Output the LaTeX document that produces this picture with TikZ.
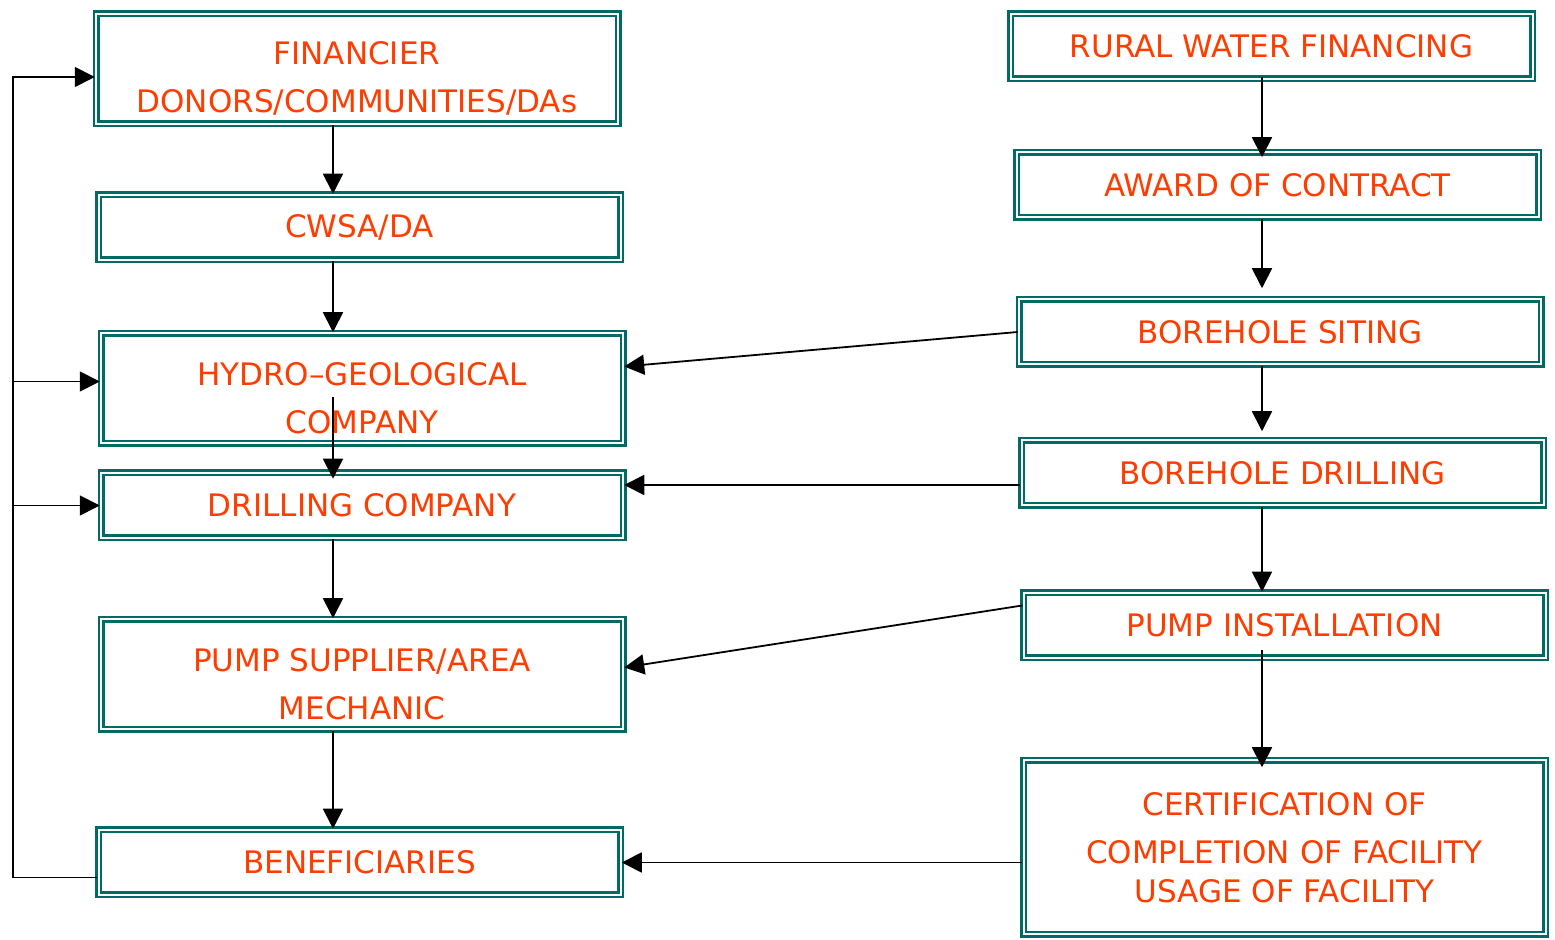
\documentclass[tikz,border=0pt]{standalone}
\usepackage{fontspec}
\setmainfont{DejaVu Sans}
\usepackage{xcolor}
\usetikzlibrary{arrows.meta,calc}
\definecolor{boxteal}{RGB}{0,107,100}
\definecolor{labelred}{RGB}{255,61,0}
\newcommand{\tallrow}{\rule{0pt}{21pt}}

\begin{document}
\begin{tikzpicture}[
    x=0.5pt, y=-0.5pt,
    box/.style={draw=boxteal, double, line width=1.25pt, double distance=1pt, rectangle, minimum width=261pt, minimum height=32.5pt, inner sep=0pt, align=center, text=labelred, font=\fontsize{15.5}{24}\selectfont},
    tallbox/.style={box, minimum height=55pt},
    arrow/.style={-{Triangle[length=10pt,width=10pt]}, line width=0.9pt}
  ]
    \useasboundingbox (0,0) rectangle (1555,940);

    % Nodes
    \node[tallbox] (fin) at (357,69) {\tallrow FINANCIER\\DONORS/COMMUNITIES/DAs};
    \node[box] (cwsa) at (359.5,227.5) {CWSA/DA};
    \node[tallbox] (hydro) at (362,388.5) {\tallrow HYDRO--GEOLOGICAL\\COMPANY};
    \node[box] (drillco) at (362,505.5) {DRILLING COMPANY};
    \node[tallbox] (pumpsup) at (362,674.5) {\tallrow PUMP SUPPLIER/AREA\\MECHANIC};
    \node[box] (benef) at (359.5,862.5) {BENEFICIARIES};

    \node[box] (rural) at (1271.5,46.5) {RURAL WATER FINANCING};
    \node[box] (award) at (1277.5,185) {AWARD OF CONTRACT};
    \node[box] (siting) at (1280,332) {BOREHOLE SITING};
    \node[box] (bdrill) at (1282.5,473) {BOREHOLE DRILLING};
    \node[box] (pumpins) at (1284.5,625.5) {PUMP INSTALLATION};
    \node[box, minimum height=87pt] (cert) at (1284.5,847.5) {CERTIFICATION OF\\COMPLETION OF FACILITY\\[-4.5pt]USAGE OF FACILITY};

    \coordinate (colL) at (333,0);
    \coordinate (colR) at (1262,0);
    \coordinate (loop) at (13,470);

    % Arrows
    \draw[arrow] (fin.south -| colL) -- (cwsa.north -| colL);
    \draw[arrow] (cwsa.south -| colL) -- (hydro.north -| colL);
    \draw[arrow] ($(hydro.center -| colL)+(0,9)$) -- ($(drillco.north -| colL)+(0,7)$);
    \draw[arrow] (drillco.south -| colL) -- (pumpsup.north -| colL);
    \draw[arrow] (pumpsup.south -| colL) -- (benef.north -| colL);

    \draw[arrow] ($(rural.south -| colR)+(0,-3)$) -- ($(award.north -| colR)+(0,6)$);
    \draw[arrow] (award.south -| colR) -- ($(siting.north -| colR)+(0,-10)$);
    \draw[arrow] (siting.south -| colR) -- ($(bdrill.north -| colR)+(0,-8)$);
    \draw[arrow] (bdrill.south -| colR) -- (pumpins.north -| colR);
    \draw[arrow] ($(pumpins.south -| colR)+(0,-9)$) -- ($(cert.north -| colR)+(0,8)$);

    \draw[arrow] (siting.west) -- ($(hydro.east)+(0,-22)$);
    \draw[arrow] ($(bdrill.west)+(0,12)$) -- ($(drillco.east)+(0,-20.5)$);
    \draw[arrow] ($(pumpins.west)+(0,-20)$) -- ($(pumpsup.east)+(0,-7)$);
    \draw[arrow] (cert.west |- benef.east) -- (benef.east);

    \draw[arrow] ($(benef.west)+(0,15)$) -| (loop) |- ($(fin.west)+(0,8)$);
    \draw[arrow] ($(loop |- hydro.west)+(0,-7)$) -- ($(hydro.west)+(0,-7)$);
    \draw[arrow] (loop |- drillco.west) -- (drillco.west);
  \end{tikzpicture}
\end{document}
